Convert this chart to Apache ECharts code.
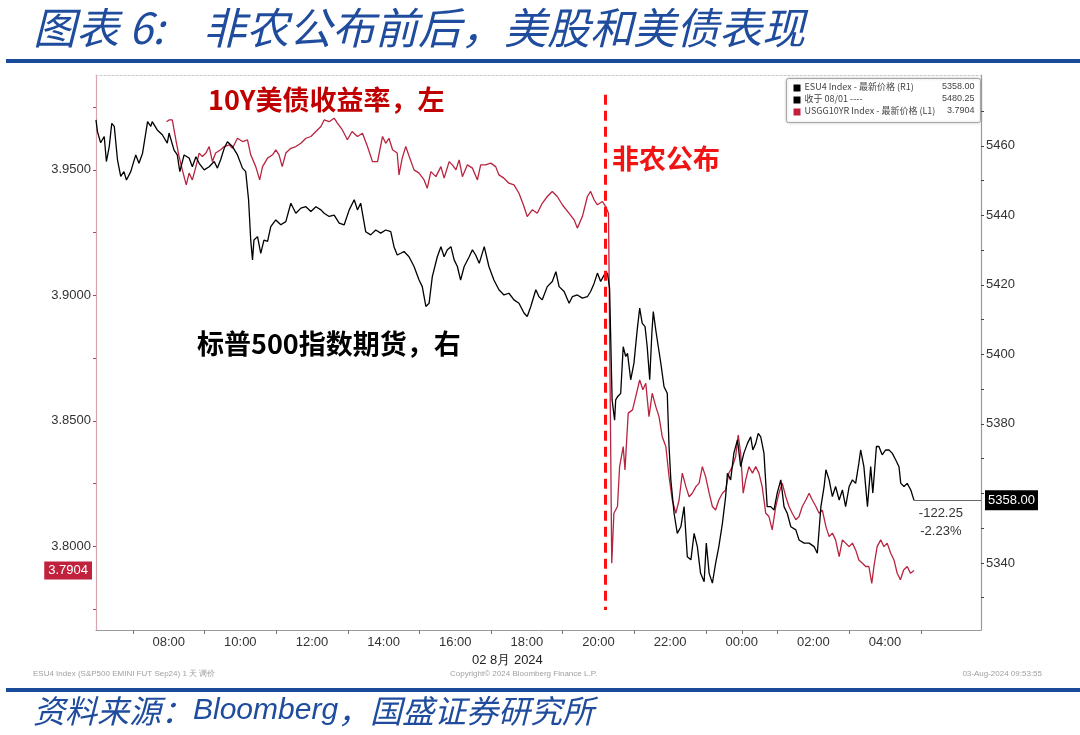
<!DOCTYPE html>
<html><head><meta charset="utf-8">
<script src="https://cdn.jsdelivr.net/npm/echarts@6/dist/echarts.min.js"></script>
<style>html,body{margin:0;padding:0;background:#fff}#c{width:1080px;height:735px}</style>
</head><body><div id="c"></div>
<script>
// hours since 00:00 on 2 Aug 2024 (values > 24 fall on 3 Aug, Beijing time)
const esTimes = [5.97,6.01,6.10,6.20,6.26,6.34,6.41,6.48,6.57,6.66,6.75,6.82,6.94,7.08,7.17,7.27,7.41,7.50,7.54,7.68,7.82,7.96,8.01,8.15,8.24,8.31,8.43,8.57,8.66,8.76,8.85,8.99,9.13,9.27,9.36,9.45,9.55,9.64,9.78,9.92,10.06,10.15,10.23,10.29,10.34,10.38,10.48,10.57,10.66,10.76,10.85,10.99,11.13,11.27,11.41,11.55,11.69,11.83,11.97,12.11,12.25,12.34,12.48,12.62,12.76,12.90,13.04,13.18,13.27,13.36,13.50,13.64,13.78,13.92,14.06,14.20,14.29,14.38,14.48,14.57,14.71,14.85,14.99,15.08,15.18,15.27,15.36,15.50,15.60,15.69,15.78,15.88,15.97,16.06,16.15,16.25,16.39,16.48,16.57,16.67,16.81,16.94,17.08,17.22,17.36,17.50,17.64,17.78,17.92,18.01,18.11,18.25,18.34,18.43,18.57,18.71,18.81,18.90,19.04,19.18,19.27,19.41,19.55,19.69,19.78,19.88,19.97,20.06,20.16,20.25,20.31,20.38,20.45,20.48,20.53,20.62,20.69,20.76,20.81,20.90,20.99,21.08,21.15,21.22,21.30,21.36,21.43,21.49,21.53,21.60,21.67,21.74,21.83,21.92,21.97,22.02,22.11,22.20,22.30,22.39,22.48,22.58,22.67,22.76,22.85,22.95,23.01,23.09,23.18,23.27,23.36,23.46,23.55,23.60,23.69,23.78,23.88,23.97,24.06,24.16,24.25,24.31,24.39,24.46,24.53,24.62,24.71,24.81,24.90,24.99,25.09,25.18,25.27,25.37,25.51,25.60,25.74,25.88,26.02,26.11,26.21,26.30,26.35,26.44,26.53,26.62,26.72,26.81,26.90,27.00,27.09,27.18,27.27,27.32,27.41,27.51,27.60,27.66,27.76,27.83,27.92,28.02,28.11,28.20,28.30,28.39,28.44,28.53,28.62,28.72,28.81];
const esValues = [5467.5,5464.1,5460.9,5462.7,5455.5,5459.8,5466.5,5465.6,5456.0,5451.2,5452.6,5450.2,5452.6,5457.4,5455.0,5457.9,5467.0,5465.6,5467.0,5464.6,5463.2,5460.8,5463.7,5458.8,5457.4,5452.6,5457.4,5456.5,5454.0,5456.9,5455.0,5453.1,5454.0,5455.5,5453.6,5456.0,5459.3,5461.2,5459.8,5457.4,5453.6,5452.6,5444.5,5432.9,5427.2,5432.9,5433.9,5429.1,5432.9,5432.5,5436.8,5438.7,5437.3,5438.2,5443.5,5440.6,5442.1,5442.5,5441.1,5442.5,5441.6,5440.6,5439.7,5440.1,5437.8,5437.3,5441.6,5444.5,5441.6,5443.5,5435.3,5434.4,5435.8,5434.9,5435.8,5435.3,5431.0,5428.6,5429.1,5429.6,5428.1,5425.3,5421.4,5419.5,5413.8,5414.7,5422.4,5428.1,5431.0,5428.1,5430.1,5431.0,5427.2,5425.3,5421.4,5425.3,5428.1,5430.1,5428.6,5426.2,5431.0,5425.3,5421.4,5418.6,5417.1,5417.6,5415.7,5414.7,5411.9,5410.9,5413.8,5418.6,5416.6,5415.7,5419.5,5421.0,5423.8,5419.5,5418.1,5414.7,5416.6,5417.1,5416.2,5416.6,5418.1,5420.5,5423.4,5421.0,5422.9,5423.4,5419.1,5386.9,5381.1,5386.9,5387.8,5388.8,5402.2,5399.4,5400.3,5392.7,5397.5,5407.0,5413.3,5409.0,5408.0,5402.2,5392.7,5406.1,5412.3,5407.0,5402.2,5397.5,5390.7,5388.8,5373.5,5363.9,5354.3,5348.5,5350.4,5356.2,5341.8,5340.9,5348.5,5344.7,5337.0,5334.6,5345.7,5337.0,5334.2,5339.9,5344.7,5351.4,5359.1,5365.8,5363.9,5371.6,5375.4,5367.7,5371.6,5374.4,5376.3,5372.5,5374.4,5377.3,5376.3,5371.6,5356.2,5356.2,5355.2,5360.1,5363.9,5356.2,5354.3,5350.4,5349.5,5346.6,5345.7,5345.7,5344.7,5342.8,5356.2,5362.0,5366.8,5363.9,5359.1,5362.0,5358.1,5361.0,5356.2,5362.0,5363.9,5362.9,5368.7,5372.5,5367.7,5356.2,5367.7,5360.1,5373.5,5373.5,5371.1,5372.5,5372.5,5371.6,5369.6,5367.7,5362.9,5362.0,5362.9,5361.0,5358.0];
const ustTimes = [7.94,8.01,8.10,8.20,8.29,8.38,8.49,8.57,8.66,8.76,8.85,8.94,9.04,9.13,9.22,9.31,9.45,9.55,9.69,9.78,9.92,10.06,10.20,10.29,10.43,10.54,10.62,10.76,10.90,10.99,11.08,11.17,11.27,11.41,11.55,11.69,11.83,11.97,12.11,12.25,12.34,12.48,12.62,12.71,12.85,12.99,13.12,13.27,13.41,13.55,13.69,13.83,13.97,14.06,14.15,14.25,14.38,14.43,14.52,14.62,14.73,14.85,14.99,15.13,15.22,15.32,15.46,15.60,15.69,15.83,15.92,16.02,16.11,16.20,16.34,16.48,16.62,16.71,16.85,16.99,17.13,17.22,17.36,17.50,17.64,17.78,17.92,18.01,18.15,18.29,18.43,18.57,18.71,18.85,18.99,19.18,19.32,19.41,19.55,19.69,19.78,19.88,19.97,20.11,20.20,20.28,20.37,20.43,20.53,20.59,20.69,20.74,20.83,20.95,21.04,21.15,21.24,21.32,21.41,21.50,21.60,21.69,21.78,21.88,21.97,22.06,22.16,22.25,22.34,22.44,22.53,22.62,22.72,22.81,22.90,22.99,23.09,23.18,23.27,23.36,23.46,23.55,23.64,23.74,23.83,23.90,23.97,24.04,24.11,24.20,24.30,24.39,24.48,24.57,24.67,24.76,24.85,24.95,25.04,25.13,25.23,25.32,25.41,25.51,25.60,25.69,25.79,25.88,25.97,26.07,26.16,26.25,26.35,26.44,26.53,26.62,26.72,26.81,26.90,27.00,27.09,27.18,27.27,27.37,27.46,27.55,27.63,27.69,27.78,27.88,27.97,28.06,28.16,28.25,28.34,28.43,28.52,28.62,28.71,28.81];
const ustValues = [3.9692,3.9699,3.9699,3.9620,3.9553,3.9500,3.9440,3.9487,3.9460,3.9513,3.9567,3.9553,3.9567,3.9593,3.9533,3.9567,3.9580,3.9593,3.9600,3.9586,3.9626,3.9613,3.9620,3.9560,3.9513,3.9460,3.9513,3.9547,3.9560,3.9580,3.9560,3.9513,3.9567,3.9586,3.9593,3.9606,3.9626,3.9633,3.9653,3.9673,3.9699,3.9692,3.9706,3.9686,3.9659,3.9620,3.9653,3.9633,3.9646,3.9593,3.9533,3.9533,3.9633,3.9606,3.9626,3.9580,3.9567,3.9480,3.9547,3.9593,3.9547,3.9500,3.9487,3.9460,3.9427,3.9493,3.9473,3.9513,3.9467,3.9533,3.9520,3.9500,3.9540,3.9473,3.9520,3.9507,3.9460,3.9520,3.9520,3.9527,3.9513,3.9480,3.9467,3.9447,3.9440,3.9407,3.9354,3.9314,3.9341,3.9327,3.9367,3.9394,3.9414,3.9394,3.9361,3.9327,3.9301,3.9268,3.9314,3.9394,3.9414,3.9380,3.9361,3.9374,3.9354,3.9327,3.7933,3.8132,3.8159,3.8318,3.8398,3.8305,3.8531,3.8544,3.8597,3.8663,3.8624,3.8650,3.8517,3.8610,3.8557,3.8517,3.8437,3.8398,3.8278,3.8185,3.8132,3.8185,3.8292,3.8238,3.8198,3.8212,3.8238,3.8252,3.8318,3.8278,3.8212,3.8159,3.8145,3.8185,3.8212,3.8225,3.8292,3.8318,3.8358,3.8444,3.8371,3.8212,3.8265,3.8318,3.8292,3.8318,3.8292,3.8238,3.8132,3.8119,3.8066,3.8159,3.8212,3.8252,3.8198,3.8159,3.8132,3.8106,3.8119,3.8159,3.8185,3.8212,3.8185,3.8159,3.8132,3.8145,3.8079,3.8039,3.8053,3.8026,3.7959,3.8026,3.8013,3.7999,3.8013,3.7986,3.7946,3.7933,3.7920,3.7920,3.7853,3.7920,3.7999,3.8026,3.7999,3.8013,3.7973,3.7946,3.7893,3.7867,3.7906,3.7920,3.7893,3.7904];
const xLabelHours = [8,10,12,14,16,18,20,22,24,26,28];
const xTickHours = [7,9,11,13,15,17,19,21,23,24,25,27,29];
const leftLabelValues = [3.80,3.85,3.90,3.95];
const leftTickValues = [3.775,3.80,3.825,3.85,3.875,3.90,3.925,3.95,3.975];
const rightLabelValues = [5340,5380,5400,5420,5440,5460];
const rightTickValues = [5330,5340,5350,5360,5370,5380,5390,5400,5410,5420,5430,5440,5450,5460,5470];
const releaseHour = 20.18;
const esLast = 5358.00, esPrevClose = 5480.25, ustLast = 3.7904;
const esChange = '-122.25', esChangePct = '-2.23%';

const chart = echarts.init(document.getElementById('c'), null, {renderer:'canvas'});
const pad = n => (n<10?'0':'')+n;
const hourFmt = v => pad(Math.round(v)%24)+':00';
const titleBlue = '#1f4c9c';
const axisFont = 'Liberation Sans, Arial, sans-serif';
const cjk = '"Noto Sans CJK SC", sans-serif';

const option = {
  animation:false,
  backgroundColor:'#fff',
  grid:{left:96,right:99,top:75,bottom:105,show:false},
  xAxis:[{
    type:'value', min:5.97, max:30.68, position:'bottom',
    axisLine:{show:true,lineStyle:{color:'#9a9a9a',width:1}},
    axisTick:{show:true,customValues:xTickHours,length:4,lineStyle:{color:'#777'}},
    axisLabel:{customValues:xLabelHours,formatter:hourFmt,color:'#333',fontSize:13,fontFamily:axisFont,margin:6},
    splitLine:{show:false}
  },{
    type:'value', min:5.97, max:30.68, position:'top',
    axisLine:{show:true,lineStyle:{color:'#c8c8c8',width:1,type:[2,2]}},
    axisTick:{show:false}, axisLabel:{show:false}, splitLine:{show:false}
  }],
  yAxis:[{
    type:'value', position:'left', min:3.7667, max:3.9878,
    axisLine:{show:true,lineStyle:{color:'#dca4ae',width:1.2}},
    axisTick:{show:true,customValues:leftTickValues,length:3,lineStyle:{color:'#b0485c'}},
    axisLabel:{customValues:leftLabelValues,formatter:v=>v.toFixed(4),color:'#333',fontSize:13,fontFamily:axisFont,margin:5},
    splitLine:{show:false}
  },{
    type:'value', position:'right', min:5320.7, max:5480.4,
    axisLine:{show:true,lineStyle:{color:'#9a9a9a',width:1.2}},
    axisTick:{show:true,customValues:rightTickValues,length:3,lineStyle:{color:'#444'}},
    axisLabel:{customValues:rightLabelValues,formatter:v=>String(v),color:'#333',fontSize:13,fontFamily:axisFont,margin:5},
    splitLine:{show:false}
  }],
  series:[{
    name:'USGG10YR Index', type:'line', xAxisIndex:0, yAxisIndex:0, showSymbol:false, symbol:'none',
    lineStyle:{color:'#b8243f',width:1.3}, z:2,
    data: ustTimes.map((t,i)=>[t,ustValues[i]]),
    markLine:{symbol:['none','none'], silent:true, data:[
      [{coord:[releaseHour,3.9799], lineStyle:{color:'#ff1010',width:3,type:[10,6]}, label:{show:false}},{coord:[releaseHour,3.7747]}],
      [{coord:[5.97,ustLast], lineStyle:{color:'rgba(0,0,0,0)',width:0}, label:{show:true,position:'start',formatter:ustLast.toFixed(4),color:'#fff',backgroundColor:'#c0213c',padding:[3,4,2,4],fontSize:13,fontFamily:axisFont,distance:4}},{coord:[6.2,ustLast]}]
    ]}
  },{
    name:'ESU4 Index', type:'line', xAxisIndex:0, yAxisIndex:1, showSymbol:false, symbol:'none',
    lineStyle:{color:'#000',width:1.3}, z:3,
    data: esTimes.map((t,i)=>[t,esValues[i]]),
    markLine:{symbol:['none','none'], silent:true, data:[
      [{coord:[28.81,esLast], lineStyle:{color:'#666',width:1,type:'solid'}, label:{show:true,position:'end',formatter:esLast.toFixed(2),color:'#fff',backgroundColor:'#000',padding:[4,3,3,3],fontSize:13,fontFamily:axisFont,distance:4}},{coord:[30.68,esLast]}]
    ]},
    markPoint:{symbol:'circle',symbolSize:1,itemStyle:{color:'rgba(0,0,0,0)'},silent:true,data:[
      {coord:[29.56,esLast],label:{show:true,position:'bottom',distance:4,formatter:esChange+'\n'+esChangePct,color:'#333',fontSize:13,lineHeight:18,fontFamily:axisFont,align:'center'}}
    ]}
  }],
  graphic:[
    {type:'text',left:33,top:6,style:{text:'图表 6:',font:'italic 43px '+cjk,fill:titleBlue}},
    {type:'text',left:203,top:6,style:{text:'非农公布前后，美股和美债表现',font:'italic 43px '+cjk,fill:titleBlue}},
    {type:'rect',shape:{x:6,y:59,width:1074,height:4},style:{fill:'#1a4a9a'}},
    {type:'rect',shape:{x:6,y:688,width:1074,height:4},style:{fill:'#1a4a9a'}},
    {type:'text',left:33,top:695,style:{rich:{a:{font:'italic 32px '+cjk,fill:titleBlue},b:{font:'italic 30px Liberation Sans, Arial, sans-serif',fill:titleBlue}},text:'{a|资料来源：}{b|Bloomberg}{a|，国盛证券研究所}'}},
    {type:'text',left:208,top:86,style:{text:'10Y美债收益率，左',font:'bold 27px '+cjk,fill:'#c00000'}},
    {type:'text',left:612,top:145,style:{text:'非农公布',font:'bold 27px '+cjk,fill:'#f01414'}},
    {type:'text',left:197,top:330,style:{text:'标普500指数期货，右',font:'bold 27px '+cjk,fill:'#000'}},
    {type:'text',left:472,top:654,style:{text:'02 8月 2024',font:'13px '+axisFont,fill:'#222'}},
    {type:'text',left:33,top:670,style:{text:'ESU4 Index (S&P500 EMINI FUT Sep24) 1 天 调价',font:'8px '+axisFont,fill:'#a0a0a0'}},
    {type:'text',left:450,top:670,style:{text:'Copyright© 2024 Bloomberg Finance L.P.',font:'8px '+axisFont,fill:'#a0a0a0'}},
    {type:'text',right:38,top:670,style:{text:'03-Aug-2024 09:53:55',font:'8px '+axisFont,fill:'#a0a0a0'}},
    {type:'group',left:786,top:78,children:[
      {type:'rect',shape:{x:0,y:0,width:194,height:44,r:2},style:{fill:'#fff',stroke:'#a8a8a8',lineWidth:1,shadowBlur:3,shadowColor:'rgba(0,0,0,0.2)'}},
      {type:'rect',shape:{x:7,y:6,width:7,height:7},style:{fill:'#000'}},
      {type:'text',x:18,y:4,style:{text:'ESU4 Index - 最新价格 (R1)',font:'9px '+cjk,fill:'#444'}},
      {type:'text',x:188,y:4,style:{text:esLast.toFixed(2),font:'9px '+axisFont,fill:'#444',align:'right'}},
      {type:'rect',shape:{x:7,y:18,width:7,height:7},style:{fill:'#000'}},
      {type:'text',x:18,y:16,style:{text:'收于 08/01 ----',font:'9px '+cjk,fill:'#444'}},
      {type:'text',x:188,y:16,style:{text:esPrevClose.toFixed(2),font:'9px '+axisFont,fill:'#444',align:'right'}},
      {type:'rect',shape:{x:7,y:30,width:7,height:7},style:{fill:'#c0213c'}},
      {type:'text',x:18,y:28,style:{text:'USGG10YR Index - 最新价格 (L1)',font:'9px '+cjk,fill:'#444'}},
      {type:'text',x:188,y:28,style:{text:ustLast.toFixed(4),font:'9px '+axisFont,fill:'#444',align:'right'}}
    ]}
  ]
};
chart.setOption(option);
</script></body></html>
